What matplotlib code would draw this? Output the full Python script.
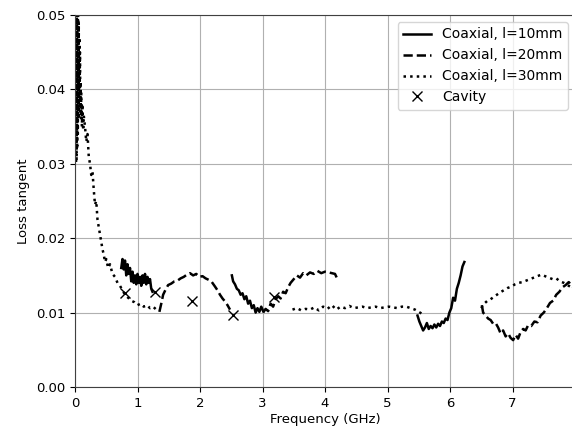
import matplotlib
matplotlib.use("Agg")
import matplotlib.pyplot as plt

# Coaxial, l=10mm (solid) - three pieces
f10a = [0.74, 0.76, 0.78, 0.80, 0.82, 0.84, 0.86, 0.88, 0.90, 0.92, 0.94, 0.96, 0.98, 1.00, 1.02,
        1.04, 1.06, 1.08, 1.10, 1.12, 1.14, 1.16, 1.18, 1.20, 1.22, 1.24]
t10a = [0.0160, 0.0172, 0.0158, 0.0170, 0.0150, 0.0165, 0.0152, 0.0160, 0.0142, 0.0155, 0.0140, 0.0150,
        0.0138, 0.0152, 0.0140, 0.0148, 0.0136, 0.0150, 0.0140, 0.0152, 0.0138, 0.0148, 0.0140, 0.0145,
        0.0132, 0.0128]
f10b = [2.51, 2.53, 2.56, 2.59, 2.62, 2.65, 2.68, 2.71, 2.74, 2.77, 2.80, 2.83, 2.86, 2.89, 2.92, 2.95,
        2.98, 3.01]
t10b = [0.0150, 0.0142, 0.0138, 0.0132, 0.0130, 0.0124, 0.0126, 0.0118, 0.0122, 0.0112, 0.0116, 0.0106,
        0.0110, 0.0100, 0.0106, 0.0101, 0.0108, 0.0102]
f10c = [5.48, 5.51, 5.54, 5.57, 5.60, 5.63, 5.66, 5.69, 5.72, 5.75, 5.78, 5.81, 5.84, 5.87, 5.90, 5.93,
        5.96, 5.99, 6.02, 6.05, 6.08, 6.11, 6.14, 6.17, 6.20, 6.23]
t10c = [0.0096, 0.0088, 0.0082, 0.0076, 0.0080, 0.0086, 0.0078, 0.0082, 0.0079, 0.0084, 0.0080, 0.0085,
        0.0082, 0.0088, 0.0086, 0.0092, 0.0090, 0.0100, 0.0106, 0.0120, 0.0116, 0.0132, 0.0140, 0.0150,
        0.0162, 0.0168]

# Coaxial, l=20mm (dashed)
f20a = [1.35, 1.38, 1.41, 1.45, 1.49, 1.54, 1.59, 1.64, 1.69, 1.74, 1.79, 1.84, 1.89, 1.94, 1.99, 2.04,
        2.09, 2.14, 2.19, 2.24, 2.28, 2.32, 2.36, 2.40, 2.44, 2.48]
t20a = [0.0101, 0.0112, 0.0124, 0.0131, 0.0137, 0.0139, 0.0142, 0.0143, 0.0146, 0.0148, 0.0151, 0.0153,
        0.0150, 0.0152, 0.0148, 0.0149, 0.0146, 0.0144, 0.0141, 0.0135, 0.0130, 0.0124, 0.0119, 0.0115,
        0.0110, 0.0104]
f20b = [3.01, 3.05, 3.09, 3.13, 3.17, 3.21, 3.25, 3.29, 3.33, 3.37, 3.41, 3.45, 3.50, 3.55, 3.60, 3.65,
        3.70, 3.76, 3.82, 3.88, 3.94, 4.00, 4.06, 4.11, 4.16, 4.21]
t20b = [0.0100, 0.0105, 0.0102, 0.0112, 0.0108, 0.0118, 0.0122, 0.0119, 0.0128, 0.0126, 0.0134, 0.0140,
        0.0145, 0.0150, 0.0147, 0.0153, 0.0150, 0.0154, 0.0152, 0.0156, 0.0153, 0.0155, 0.0154, 0.0153,
        0.0152, 0.0143]
f20c = [6.51, 6.53, 6.57, 6.61, 6.65, 6.69, 6.73, 6.77, 6.81, 6.85, 6.89, 6.93, 6.97, 7.01, 7.05, 7.09,
        7.13, 7.17, 7.21, 7.25, 7.30, 7.35, 7.40, 7.45, 7.50, 7.55, 7.60, 7.65, 7.70, 7.75, 7.80, 7.85,
        7.90, 7.95, 8.00]
t20c = [0.0110, 0.0100, 0.0096, 0.0092, 0.0090, 0.0085, 0.0086, 0.0080, 0.0072, 0.0076, 0.0068, 0.0072,
        0.0066, 0.0063, 0.0070, 0.0065, 0.0074, 0.0078, 0.0076, 0.0083, 0.0082, 0.0088, 0.0087, 0.0096,
        0.0100, 0.0106, 0.0113, 0.0116, 0.0124, 0.0128, 0.0134, 0.0137, 0.0141, 0.0136, 0.0132]

# Coaxial, l=30mm (dotted)
f30a = [0.010, 0.015, 0.020, 0.025, 0.030, 0.035, 0.040, 0.045, 0.050, 0.055, 0.060, 0.065, 0.070,
        0.075, 0.080, 0.085, 0.090, 0.095, 0.10, 0.11, 0.12, 0.13, 0.14, 0.16, 0.18, 0.20, 0.22, 0.24,
        0.26, 0.28, 0.30, 0.32, 0.34, 0.36, 0.38, 0.40, 0.42, 0.44, 0.46, 0.48, 0.50, 0.53, 0.56, 0.60,
        0.64, 0.68, 0.72, 0.76, 0.80, 0.85, 0.90, 0.95, 1.00, 1.05, 1.10, 1.15, 1.20, 1.25, 1.30, 1.33]
t30a = [0.0520, 0.0300, 0.0515, 0.0305, 0.0510, 0.0320, 0.0505, 0.0340, 0.0500, 0.0360, 0.0490, 0.0385,
        0.0470, 0.0395, 0.0450, 0.0370, 0.0410, 0.0360, 0.0395, 0.0350, 0.0380, 0.0345, 0.0365, 0.0350,
        0.0330, 0.0340, 0.0310, 0.0300, 0.0285, 0.0290, 0.0265, 0.0245, 0.0250, 0.0225, 0.0215, 0.0205,
        0.0195, 0.0185, 0.0178, 0.0168, 0.0172, 0.0160, 0.0165, 0.0152, 0.0148, 0.0140, 0.0136, 0.0130,
        0.0124, 0.0120, 0.0116, 0.0114, 0.0110, 0.0112, 0.0108, 0.0110, 0.0106, 0.0108, 0.0104, 0.0101]
f30b = [3.48, 3.55, 3.62, 3.69, 3.76, 3.83, 3.90, 3.97, 4.04, 4.11, 4.18, 4.25, 4.32, 4.39, 4.46, 4.53,
        4.60, 4.67, 4.74, 4.81, 4.88, 4.95, 5.02, 5.09, 5.16, 5.23, 5.30, 5.37, 5.44, 5.50, 5.56]
t30b = [0.0104, 0.0106, 0.0103, 0.0105, 0.0104, 0.0107, 0.0103, 0.0108, 0.0105, 0.0110, 0.0104, 0.0108,
        0.0106, 0.0109, 0.0106, 0.0107, 0.0108, 0.0106, 0.0107, 0.0108, 0.0106, 0.0107, 0.0108, 0.0107,
        0.0106, 0.0108, 0.0108, 0.0106, 0.0104, 0.0101, 0.0098]
f30c = [6.50, 6.53, 6.56, 6.60, 6.65, 6.70, 6.75, 6.80, 6.86, 6.92, 6.98, 7.04, 7.10, 7.16, 7.22, 7.28,
        7.34, 7.40, 7.46, 7.52, 7.58, 7.64, 7.70, 7.76, 7.82, 7.88, 7.94, 8.00]
t30c = [0.0106, 0.0110, 0.0113, 0.0116, 0.0118, 0.0121, 0.0124, 0.0127, 0.0130, 0.0133, 0.0135, 0.0138,
        0.0140, 0.0141, 0.0143, 0.0145, 0.0147, 0.0149, 0.0151, 0.0149, 0.0147, 0.0145, 0.0146, 0.0142,
        0.0140, 0.0137, 0.0134, 0.0131]

# Cavity measurements
f_cav = [0.80, 1.28, 1.87, 2.52, 3.18]
t_cav = [0.0127, 0.0128, 0.0115, 0.0097, 0.0121]

fig = plt.figure(figsize=(5.72, 4.32), dpi=100)
ax = fig.add_axes([75 / 572, 45 / 432, 500 / 572, 372 / 432])

lw = 1.8
ax.plot(f10a, t10a, color="black", linestyle="-", linewidth=lw, label="Coaxial, l=10mm")
ax.plot(f10b, t10b, color="black", linestyle="-", linewidth=lw)
ax.plot(f10c, t10c, color="black", linestyle="-", linewidth=lw)
ax.plot(f20a, t20a, color="black", linestyle="--", linewidth=lw, label="Coaxial, l=20mm")
ax.plot(f20b, t20b, color="black", linestyle="--", linewidth=lw)
ax.plot(f20c, t20c, color="black", linestyle="--", linewidth=lw)
ax.plot(f30a, t30a, color="black", linestyle=":", linewidth=lw, label="Coaxial, l=30mm")
ax.plot(f30b, t30b, color="black", linestyle=":", linewidth=lw)
ax.plot(f30c, t30c, color="black", linestyle=":", linewidth=lw)
ax.plot(f_cav, t_cav, linestyle="none", marker="x", color="black", markersize=7, label="Cavity")

ax.set_xlim(0, 8)
ax.set_ylim(0, 0.05)
ax.set_xticks([0, 1, 2, 3, 4, 5, 6, 7, 8])
ax.set_yticks([0.0, 0.01, 0.02, 0.03, 0.04, 0.05])
ax.set_yticklabels(["0.00", "0.01", "0.02", "0.03", "0.04", "0.05"])
ax.tick_params(labelsize=9.5)
ax.grid(True, color="#b0b0b0", linewidth=0.8)
for s in ax.spines.values():
    s.set_color("#404040")
ax.set_xlabel("Frequency (GHz)", fontsize=9.5, labelpad=2)
ax.set_ylabel("Loss tangent", fontsize=9.5)
ax.legend(loc="upper right", fontsize=10, borderaxespad=0.5)

fig.savefig("out.png", dpi=100)
